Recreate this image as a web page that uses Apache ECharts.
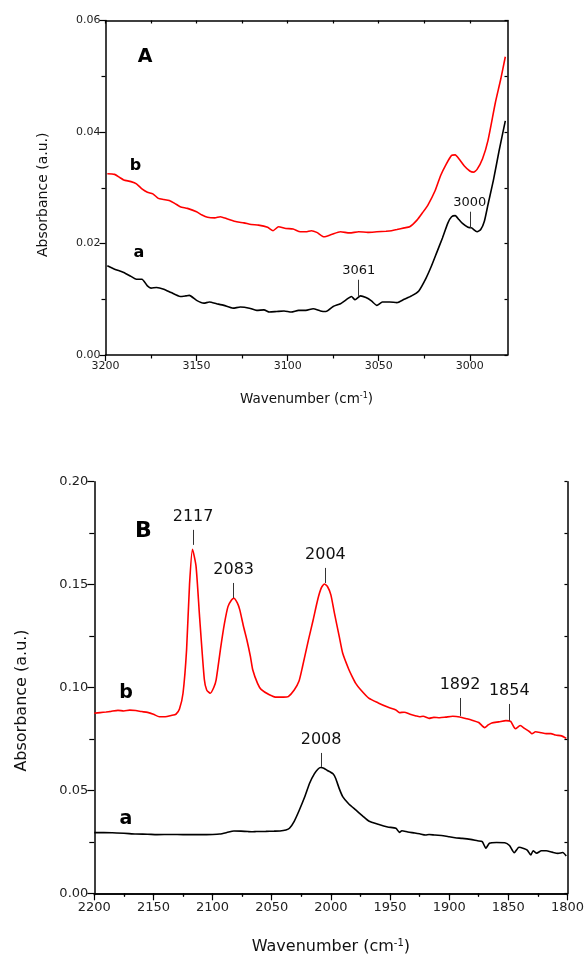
<!DOCTYPE html>
<html>
<head>
<meta charset="utf-8">
<script src="https://cdn.jsdelivr.net/npm/echarts@6/dist/echarts.min.js"></script>
<style>
html, body { margin: 0; padding: 0; background: #fff; }
#main { width: 587px; height: 960px; }
</style>
</head>
<body>
<div id="main"></div>
<script>
// panel A : 3200 - 2979 cm-1
var topWnB = [3199,3195,3192,3190,3186,3183,3180,3177,3174,3171,3168,3165,3162,3159,3155,3150,3147,3144,3140,3137,3133,3128,3124,3120,3116,3111,3108,3105,3101,3097,3093,3090,3087,3084,3080,3076,3071,3066,3061,3056,3051,3046,3043,3040,3036,3033,3029,3026,3023,3019,3016,3013,3010,3008,3006,3003,3000,2998,2996,2993,2990,2986,2983,2980.5];
var topAbsB = [0.0325,0.0324,0.0318,0.0314,0.0311,0.0307,0.0298,0.0292,0.0289,0.0281,0.0279,0.0277,0.0272,0.0266,0.0263,0.0257,0.0251,0.0247,0.0246,0.0248,0.0244,0.0239,0.0237,0.0234,0.0233,0.0229,0.0223,0.0230,0.0227,0.0226,0.0221,0.0221,0.0223,0.0220,0.0212,0.0216,0.0221,0.0219,0.0221,0.0220,0.0221,0.0222,0.0223,0.0225,0.0228,0.0230,0.0242,0.0255,0.0269,0.0295,0.0322,0.0342,0.0358,0.0359,0.0352,0.0339,0.0330,0.0328,0.0333,0.0352,0.0385,0.0452,0.0495,0.0535];
var topWnA = [3199,3195,3190,3186,3183,3180,3177,3175,3172,3168,3164,3159,3156,3154,3150,3146,3143,3139,3135,3130,3126,3121,3117,3113,3110,3106,3102,3098,3094,3090,3086,3082,3079,3075,3071,3067,3065,3063,3060,3057,3054,3051,3048,3044,3040,3036,3032,3028,3024,3021,3018,3015,3012,3010,3008,3006,3004,3001,2999,2996,2994,2992,2990,2987,2984,2980.5];
var topAbsA = [0.0160,0.0154,0.0148,0.0141,0.0136,0.0136,0.0124,0.0120,0.0121,0.0118,0.0112,0.0105,0.0106,0.0107,0.0098,0.0093,0.0095,0.0092,0.0089,0.0084,0.0086,0.0084,0.0080,0.0081,0.0077,0.0078,0.0079,0.0077,0.0080,0.0080,0.0083,0.0079,0.0078,0.0087,0.0092,0.0101,0.0105,0.0099,0.0106,0.0103,0.0097,0.0089,0.0095,0.0095,0.0094,0.0100,0.0106,0.0115,0.0138,0.0160,0.0185,0.0210,0.0237,0.0248,0.0250,0.0243,0.0236,0.0229,0.0228,0.0221,0.0225,0.0240,0.0270,0.0314,0.0365,0.0420];
var topXTicks = [3000,3050,3100,3150,3200];
var topXMinor = [3025,3075,3125,3175];
var topXMirror = [3000,3025,3050,3075,3100,3125,3150,3175,3200];
var topPeakLabels = ['3061','3000'];
var topPeakWn = [3061,3000];
var topPeakLow = [0.0106,0.0228];
var topPeakHigh = [0.0135,0.0257];

// panel B : 2200 - 1800 cm-1
var botWnB = [2200,2195,2190,2186,2180,2175,2170,2165,2160,2155,2150,2145,2140,2135,2131,2128,2125,2122,2119.5,2117,2114,2111,2107,2105,2102,2099,2097,2093,2090,2087,2084,2082,2079,2077,2074,2071,2068,2066,2062,2059,2052,2046,2040,2036,2031,2027,2024,2019,2015,2011,2008,2005.5,2003,2000,1997,1993,1990,1985,1982,1979,1975,1968,1960,1952,1945,1942,1938,1933,1928,1925,1922,1917,1913,1908,1903,1897,1891,1885,1880,1875,1870,1867,1864,1858,1852,1848,1844,1840,1836,1832,1830,1827,1822,1818,1814,1810,1805,1801];
var botAbsB = [0.0875,0.0878,0.0881,0.0884,0.0889,0.0886,0.0890,0.0888,0.0883,0.0879,0.0870,0.0858,0.0858,0.0864,0.0870,0.0895,0.0972,0.1182,0.1500,0.1672,0.1590,0.1344,0.1040,0.0988,0.0972,0.1000,0.1037,0.1200,0.1310,0.1393,0.1425,0.1434,0.1410,0.1377,0.1300,0.1231,0.1150,0.1085,0.1020,0.0991,0.0965,0.0953,0.0953,0.0956,0.0988,0.1030,0.1101,0.1230,0.1328,0.1430,0.1485,0.1503,0.1492,0.1450,0.1361,0.1250,0.1166,0.1090,0.1053,0.1020,0.0990,0.0948,0.0925,0.0905,0.0891,0.0878,0.0880,0.0870,0.0862,0.0858,0.0860,0.0850,0.0855,0.0853,0.0856,0.0860,0.0857,0.0848,0.0840,0.0830,0.0805,0.0818,0.0828,0.0833,0.0839,0.0835,0.0800,0.0815,0.0800,0.0785,0.0775,0.0785,0.0780,0.0776,0.0776,0.0769,0.0765,0.0753];
var botWnA = [2200,2192,2185,2175,2165,2155,2147,2135,2125,2119,2110,2100,2094,2088,2082,2076,2070,2066,2063,2055,2048,2043,2038,2035,2031,2027,2022,2018,2014,2011,2008.5,2006,2003,2001,1998,1996,1993,1990,1985,1979,1973,1968,1960,1952,1945,1942,1940,1935,1929,1925,1920,1917,1912,1905,1900,1895,1889,1882,1876,1872,1869,1866,1860,1853,1849,1845,1841,1837,1834,1831,1829,1826,1822,1818,1813,1808,1804,1801];
var botAbsA = [0.0295,0.0295,0.0294,0.0292,0.0288,0.0287,0.0285,0.0286,0.0285,0.0285,0.0285,0.0286,0.0288,0.0295,0.0303,0.0302,0.0300,0.0299,0.0300,0.0301,0.0302,0.0303,0.0308,0.0316,0.0350,0.0400,0.0470,0.0535,0.0580,0.0603,0.0611,0.0608,0.0597,0.0591,0.0580,0.0559,0.0510,0.0470,0.0435,0.0405,0.0375,0.0351,0.0335,0.0322,0.0316,0.0296,0.0304,0.0298,0.0293,0.0289,0.0283,0.0286,0.0283,0.0280,0.0275,0.0270,0.0267,0.0262,0.0255,0.0251,0.0219,0.0243,0.0247,0.0246,0.0232,0.0197,0.0224,0.0218,0.0210,0.0186,0.0207,0.0195,0.0207,0.0207,0.0200,0.0194,0.0198,0.0181];
var botPeakLabels = ['2117','2083','2004','2008','1892','1854'];
var botPeakWn = [2116.5,2082.2,2004.6,2008.3,1890.8,1849.2];
var botPeakLow = [0.1693,0.1435,0.1508,0.0614,0.0862,0.0839];
var botPeakHigh = [0.1766,0.1508,0.1581,0.0682,0.0949,0.0920];

var FONT = 'DejaVu Sans';

function pairs(xs, ys) {
	var out = [];
	for (var i = 0; i < xs.length; i++) out.push([xs[i], ys[i]]);
	return out;
}

function peakLines(labels, wn, lo, hi) {
	var out = [];
	for (var i = 0; i < labels.length; i++) {
		out.push([{ name: labels[i], coord: [wn[i], lo[i]] }, { coord: [wn[i], hi[i]] }]);
	}
	return out;
}

function peakMark(labels, wn, lo, hi, size, dist) {
	return {
		silent: true,
		symbol: ['none', 'none'],
		lineStyle: { color: '#333', width: 1, type: 'solid' },
		label: {
			show: true, position: 'end', distance: dist,
			formatter: function (p) { return p.name; },
			color: '#111', fontFamily: FONT, fontSize: size
		},
		emphasis: { disabled: true },
		data: peakLines(labels, wn, lo, hi)
	};
}

var axisLine = { show: true, lineStyle: { color: '#000', width: 1.5 } };
var noSplit = { show: false };
var fix2 = function (v) { return v.toFixed(2); };
var plain = function (v) { return String(v); };

var myChart = echarts.init(document.getElementById('main'));

var option = {
	backgroundColor: '#fff',
	animation: false,
	grid: [
		{ left: 105.5, right: 79.5, top: 20.5, height: 334.5 },
		{ left: 94.3, right: 18.3, top: 481.7, height: 411.6 }
	],
	xAxis: [
		{
			type: 'value', gridIndex: 0, position: 'bottom', inverse: true,
			min: 2979.3, max: 3200,
			axisLine: axisLine,
			axisTick: { show: true, length: 6, customValues: topXTicks, lineStyle: { color: '#000', width: 1.2 } },
			axisLabel: { customValues: topXTicks, formatter: plain, fontFamily: FONT, fontSize: 11, color: '#222', margin: 6 },
			splitLine: noSplit,
			name: 'Wavenumber (cm{sup|-1})', nameLocation: 'middle', nameGap: 37,
			nameTextStyle: {
				fontFamily: FONT, fontSize: 13.5, color: '#111',
				rich: { sup: { fontFamily: FONT, fontSize: 8, color: '#111', verticalAlign: 'top', padding: [0, 0, 6, 0] } }
			}
		},
		{
			type: 'value', gridIndex: 0, position: 'bottom', inverse: true,
			min: 2979.3, max: 3200,
			axisLine: { show: false },
			axisTick: { show: true, length: 3.5, customValues: topXMinor, lineStyle: { color: '#000', width: 1.2 } },
			axisLabel: { show: false },
			splitLine: noSplit
		},
		{
			type: 'value', gridIndex: 0, position: 'top', inverse: true,
			min: 2979.3, max: 3200,
			axisLine: axisLine,
			axisTick: { show: true, inside: true, length: 3, customValues: topXMirror, lineStyle: { color: '#000', width: 1.2 } },
			axisLabel: { show: false },
			splitLine: noSplit
		},
		{
			type: 'value', gridIndex: 1, position: 'bottom', inverse: true,
			min: 1800, max: 2200, interval: 50,
			axisLine: axisLine,
			axisTick: { show: true, length: 7, lineStyle: { color: '#000', width: 1.2 } },
			minorTick: { show: true, splitNumber: 2, length: 3.5, lineStyle: { color: '#000', width: 1.2 } },
			axisLabel: { formatter: plain, fontFamily: FONT, fontSize: 13, color: '#222', margin: 8 },
			splitLine: noSplit,
			name: 'Wavenumber (cm{sup|-1})', nameLocation: 'middle', nameGap: 45,
			nameTextStyle: {
				fontFamily: FONT, fontSize: 16, color: '#111',
				rich: { sup: { fontFamily: FONT, fontSize: 10, color: '#111', verticalAlign: 'top', padding: [0, 0, 8, 0] } }
			}
		},
		{
			type: 'value', gridIndex: 1, position: 'top', inverse: true,
			min: 1800, max: 2200, interval: 25,
			axisLine: axisLine,
			axisTick: { show: true, inside: true, length: 3, lineStyle: { color: '#000', width: 1.2 } },
			axisLabel: { show: false },
			splitLine: noSplit
		}
	],
	yAxis: [
		{
			type: 'value', gridIndex: 0, position: 'left',
			min: 0, max: 0.06, interval: 0.02,
			axisLine: axisLine,
			axisTick: { show: true, length: 6, lineStyle: { color: '#000', width: 1.2 } },
			minorTick: { show: true, splitNumber: 2, length: 4, lineStyle: { color: '#000', width: 1.2 } },
			axisLabel: { formatter: fix2, fontFamily: FONT, fontSize: 11, color: '#222', margin: 5 },
			splitLine: noSplit,
			name: 'Absorbance (a.u.)', nameLocation: 'middle', nameGap: 55,
			nameTextStyle: { fontFamily: FONT, fontSize: 14, color: '#111', padding: [0, 14, 0, 0] }
		},
		{
			type: 'value', gridIndex: 0, position: 'right',
			min: 0, max: 0.06, interval: 0.01,
			axisLine: axisLine,
			axisTick: { show: true, inside: true, length: 3, lineStyle: { color: '#000', width: 1.2 } },
			axisLabel: { show: false },
			splitLine: noSplit
		},
		{
			type: 'value', gridIndex: 1, position: 'left',
			min: 0, max: 0.2, interval: 0.05,
			axisLine: axisLine,
			axisTick: { show: true, length: 7, lineStyle: { color: '#000', width: 1.2 } },
			minorTick: { show: true, splitNumber: 2, length: 5, lineStyle: { color: '#000', width: 1.2 } },
			axisLabel: { formatter: fix2, fontFamily: FONT, fontSize: 13, color: '#222', margin: 6 },
			splitLine: noSplit,
			name: 'Absorbance (a.u.)', nameLocation: 'middle', nameGap: 64,
			nameTextStyle: { fontFamily: FONT, fontSize: 16, color: '#111', padding: [0, 26, 0, 0] }
		},
		{
			type: 'value', gridIndex: 1, position: 'right',
			min: 0, max: 0.2, interval: 0.025,
			axisLine: axisLine,
			axisTick: { show: true, inside: true, length: 3, lineStyle: { color: '#000', width: 1.2 } },
			axisLabel: { show: false },
			splitLine: noSplit
		}
	],
	series: [
		{
			name: 'A-b', type: 'line', xAxisIndex: 0, yAxisIndex: 0,
			data: pairs(topWnB, topAbsB), showSymbol: false, smooth: 0.2,
			lineStyle: { color: '#ff0000', width: 1.6 }, itemStyle: { color: '#ff0000' }
		},
		{
			name: 'A-a', type: 'line', xAxisIndex: 0, yAxisIndex: 0,
			data: pairs(topWnA, topAbsA), showSymbol: false, smooth: 0.2,
			lineStyle: { color: '#000', width: 1.6 }, itemStyle: { color: '#000' },
			markLine: peakMark(topPeakLabels, topPeakWn, topPeakLow, topPeakHigh, 13, 3)
		},
		{
			name: 'B-b', type: 'line', xAxisIndex: 3, yAxisIndex: 2,
			data: pairs(botWnB, botAbsB), showSymbol: false, smooth: 0.2,
			lineStyle: { color: '#ff0000', width: 1.6 }, itemStyle: { color: '#ff0000' }
		},
		{
			name: 'B-a', type: 'line', xAxisIndex: 3, yAxisIndex: 2,
			data: pairs(botWnA, botAbsA), showSymbol: false, smooth: 0.2,
			lineStyle: { color: '#000', width: 1.6 }, itemStyle: { color: '#000' },
			markLine: peakMark(botPeakLabels, botPeakWn, botPeakLow, botPeakHigh, 16, 5)
		}
	],
	graphic: [
		{ type: 'text', x: 145, y: 57.5, style: { text: 'A', fontFamily: FONT, fontSize: 19, fontWeight: 'bold', fill: '#000', align: 'center', verticalAlign: 'middle' } },
		{ type: 'text', x: 135.5, y: 166, style: { text: 'b', fontFamily: FONT, fontSize: 16, fontWeight: 'bold', fill: '#000', align: 'center', verticalAlign: 'middle' } },
		{ type: 'text', x: 139, y: 253, style: { text: 'a', fontFamily: FONT, fontSize: 16, fontWeight: 'bold', fill: '#000', align: 'center', verticalAlign: 'middle' } },
		{ type: 'text', x: 143.5, y: 531, style: { text: 'B', fontFamily: FONT, fontSize: 22, fontWeight: 'bold', fill: '#000', align: 'center', verticalAlign: 'middle' } },
		{ type: 'text', x: 126, y: 693, style: { text: 'b', fontFamily: FONT, fontSize: 19, fontWeight: 'bold', fill: '#000', align: 'center', verticalAlign: 'middle' } },
		{ type: 'text', x: 126, y: 819, style: { text: 'a', fontFamily: FONT, fontSize: 19, fontWeight: 'bold', fill: '#000', align: 'center', verticalAlign: 'middle' } }
	]
};
myChart.setOption(option);
</script>
</body>
</html>
